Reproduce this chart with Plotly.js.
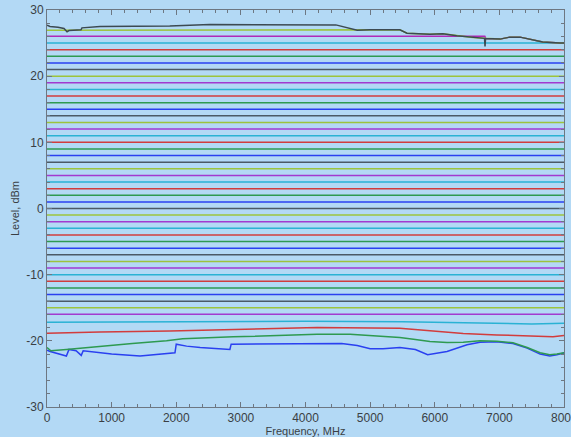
<!DOCTYPE html>
<html>
<head>
<meta charset="utf-8">
<script src="https://cdn.plot.ly/plotly-3.0.1.min.js"></script>
<style>
html,body{margin:0;padding:0;background:#b3d9f5;}
#chart{width:571px;height:437px;}
</style>
</head>
<body>
<div id="chart"></div>
<script>
// Flat output levels (dBm) that stay constant across the band
const flatLevels = [25, 24, 23, 22, 21, 20, 19, 18, 17, 16, 15, 14, 13, 12, 11, 10, 9, 8, 7, 6, 5, 4, 3, 2, 1, 0,
  -1, -2, -3, -4, -5, -6, -7, -8, -9, -10, -11, -12, -13, -14, -15, -16];
const bandEdges = [0, 8000];

// 28 dBm setting (saturating)
const freq28 = [0, 46, 170, 263, 310, 340, 526, 541, 820, 1900, 2520, 3910, 4470, 4800, 5000, 5460, 5570, 5925, 6125, 6340, 6590, 6770, 6778, 6786, 7010, 7160, 7320, 7470, 7670, 7940, 8000];
const level28 = [27.7, 27.5, 27.4, 27.2, 26.7, 26.9, 27.0, 27.3, 27.5, 27.6, 27.8, 27.8, 27.75, 26.95, 27.0, 27.0, 26.5, 26.35, 26.4, 26.1, 25.85, 25.72, 24.5, 25.7, 25.6, 25.9, 25.9, 25.6, 25.15, 25.0, 25.0];

// 27 dBm setting
const freq27 = [0, 2000, 4000, 5460, 5570, 5925, 6125, 6340, 6590, 6770, 7010, 7160, 7320, 7470, 7670, 7940, 8000];
const level27 = [26.95, 27.0, 27.0, 27.0, 26.5, 26.35, 26.4, 26.1, 25.85, 25.72, 25.6, 25.9, 25.9, 25.6, 25.15, 25.0, 25.0];

// 26 dBm setting
const freq26 = [0, 2000, 4000, 6000, 6775, 6790, 7010, 7160, 7320, 7470, 7670, 7940, 8000];
const level26 = [26.05, 26.05, 26.05, 26.05, 26.05, 25.7, 25.6, 25.9, 25.9, 25.6, 25.15, 25.0, 25.0];

// -17 dBm setting
const freqM17 = [0, 2000, 4000, 5500, 6500, 7500, 8000];
const levelM17 = [-17.2, -17.1, -17.05, -17.1, -17.3, -17.45, -17.35];

// -18 dBm setting
const freqM18 = [0, 200, 820, 1900, 3140, 4180, 5460, 5925, 6440, 6960, 7470, 7830, 8000];
const levelM18 = [-18.85, -18.8, -18.65, -18.5, -18.2, -18.0, -18.1, -18.5, -18.9, -19.1, -19.25, -19.4, -19.2];

// -19 dBm setting
const freqM19 = [0, 60, 300, 820, 1320, 1850, 2100, 2880, 3650, 4180, 4690, 5200, 5460, 5700, 5925, 6190, 6440, 6700, 6960, 7210, 7430, 7630, 7780, 7890, 8000];
const levelM19 = [-21.0, -21.5, -21.3, -20.8, -20.4, -20.0, -19.7, -19.4, -19.2, -19.0, -19.0, -19.3, -19.5, -19.8, -20.1, -20.25, -20.2, -20.0, -20.05, -20.3, -21.0, -21.8, -22.1, -22.0, -21.8];

// -20 dBm setting
const freqM20 = [0, 50, 300, 340, 450, 530, 560, 820, 1000, 1440, 1850, 1980, 2000, 2160, 2370, 2720, 2830, 2850, 3650, 3910, 4420, 4560, 4800, 5000, 5200, 5460, 5700, 5890, 6190, 6400, 6500, 6700, 6960, 7210, 7430, 7630, 7780, 7890, 8000];
const levelM20 = [-21.4, -21.6, -22.3, -21.3, -21.5, -22.2, -21.5, -21.8, -22.0, -22.3, -21.9, -21.8, -20.5, -20.8, -21.0, -21.2, -21.3, -20.5, -20.5, -20.4, -20.5, -20.4, -20.7, -21.2, -21.2, -21.0, -21.3, -22.1, -21.6, -21.0, -20.6, -20.2, -20.15, -20.4, -21.1, -22.0, -22.3, -22.1, -21.85];

const xTicks = [0, 1000, 2000, 3000, 4000, 5000, 6000, 7000, 8000];
const yTicks = [-30, -20, -10, 0, 10, 20, 30];

const palette = ['#4b5a66', '#9cc43c', '#a23ad0', '#2ab2d4', '#d23c3c', '#2e9a50', '#2a40f0'];
function colorFor(setting) { return palette[((21 - setting) % 7 + 7) % 7]; }

const traces = [];
function addTrace(x, y, setting, colorOverride) {
  traces.push({x: x, y: y, type: 'scatter', mode: 'lines', hoverinfo: 'skip',
    line: {color: colorOverride || colorFor(setting), width: 1.5}});
}
flatLevels.forEach(v => addTrace(bandEdges, [v, v], v));
addTrace(freqM17, levelM17, -17);
addTrace(freqM18, levelM18, -18);
addTrace(freqM20, levelM20, -20);
addTrace(freqM19, levelM19, -19);
addTrace(freq26, level26, 26, '#b02ab8');
addTrace(freq27, level27, 27);
addTrace(freq28, level28, 28, '#3c4a52');

const tickFont = {family: 'Liberation Sans, Arial, sans-serif', size: 12, color: '#3a3f44'};
const axisCommon = {
  showline: true, linecolor: '#6d7782', linewidth: 1, mirror: 'allticks',
  ticks: 'inside', ticklen: 5, tickcolor: '#6d7782', tickwidth: 1,
  showgrid: false, zeroline: false, fixedrange: true,
  tickfont: tickFont
};

const lastX = xTicks[xTicks.length - 1];
const layout = {
  width: 571, height: 437,
  paper_bgcolor: '#b3d9f5', plot_bgcolor: '#b3d9f5',
  margin: {l: 47, r: 7, t: 10, b: 30},
  showlegend: false,
  xaxis: Object.assign({}, axisCommon, {
    range: [0, 8000], tickvals: xTicks, ticktext: xTicks.map(String), automargin: false,
    minor: {dtick: 200, ticks: 'inside', ticklen: 3, tickcolor: '#6d7782', showgrid: false},
    title: {text: 'Frequency, MHz', standoff: 0, font: {family: 'Liberation Sans, Arial, sans-serif', size: 11, color: '#3a3f44'}}
  }),
  yaxis: Object.assign({}, axisCommon, {
    range: [-30, 30], tickvals: yTicks, ticktext: yTicks.map(String), automargin: false,
    minor: {dtick: 2, ticks: 'inside', ticklen: 3, tickcolor: '#6d7782', showgrid: false},
    title: {text: 'Level, dBm', standoff: 4, font: {family: 'Liberation Sans, Arial, sans-serif', size: 11, color: '#3a3f44'}}
  }),
  annotations: [{
    x: lastX, xref: 'x', y: 0, yref: 'paper', yanchor: 'top', xanchor: 'center', yshift: -2,
    text: String(lastX), showarrow: false, font: tickFont
  }]
};

Plotly.newPlot('chart', traces, layout, {staticPlot: true, displayModeBar: false});
</script>
</body>
</html>
